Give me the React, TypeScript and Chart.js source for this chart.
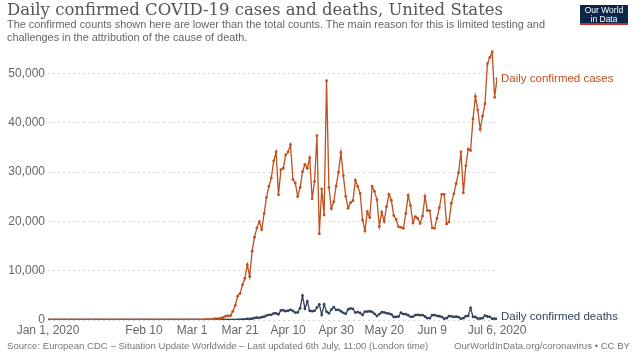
import React, { useEffect, useRef } from 'react';
import { Chart, registerables } from 'chart.js';

Chart.register(...registerables);

// ---- Data (day 0 = Jan 1, 2020) ----
const casesJan = [0,0,0,0,0,0,0,0,0,0, 0,0,0,0,0,0,0,0,0,0, 1,0,0,1,0,3,0,0,0,0, 1];
const casesFeb = [1,0,3,0,0,1,0,0,0,0, 1,0,1,1,0,0,0,0,0,0, 0,19,0,0,18,0,6,1,6];
const casesMar = [6,20,24,22,34,74,105,95,121,200, 271,287,351,511,777,823,887,1766,2988,4835, 5374,7123,8459,11236,8789,13963,16797,18695,19979,18360, 21595];
const casesApr = [24900,27100,28800,32300,34100,25400,30500,30800,33500,34100, 35600,28500,27800,25100,26900,30100,31600,30800,32900,24600, 28100,37400,17500,26600,21300,48600,26900,22600,24000,27200];
const casesMay = [30000,34000,29300,25100,22700,23800,24200,28400,27100,25700, 20300,18100,22000,20800,27100,26100,24400,19000,21900,20000, 23000,25500,24300,21200,20400,18900,18800,18600,21600,25300, 23200];
const casesJun = [19700,21000,20600,19600,21100,25100,22200,22200,18700,18600, 20600,22800,25500,25500,19500,19900,23700,25600,27700,29900, 34100,25800,31300,34700,34400,40800,45400,42600,38700,41400];
const casesJul = [43900,52000,53300,54400,45200,49000];

const deathsJan = new Array(31).fill(0);
const deathsFeb = new Array(29).fill(0);
const deathsMar = [1,5,1,3,1,4,3,2,4,4, 5,7,9,11,7,18,23,16,40,49, 46,113,141,225,247,249,409,484,445,571, 664];
const deathsApr = [906,1059,1045,1331,1330,1164,1939,1973,1783,1877, 2065,1830,1500,1541,2408,4928,2299,3770,1856,1772, 1857,2524,3179,1054,3176,1687,1369,2110,2611,2040];
const deathsMay = [2062,1775,1452,1248,2144,2353,2239,1510,1614,1422, 1015,1680,1715,1772,1632,1224,808,1200,1574,1528, 1394,1285,1131,632,617,708,1507,1201,1193,966, 638];
const deathsJun = [668,997,1036,974,1003,706,361,373,971,976, 852,758,622,279,362,775,750,629,704,569, 266,380,779,812,2437,651,612,287,307,374];
const deathsJul = [900,714,652,263,274,243];

const tickDays = [0, 40, 60, 80, 100, 120, 140, 160, 187];
const tickLabels = ['Jan 1, 2020', 'Feb 10', 'Mar 1', 'Mar 21', 'Apr 10', 'Apr 30', 'May 20', 'Jun 9', 'Jul 6, 2020'];
const yTicks = [0, 10000, 20000, 30000, 40000, 50000];

const seriesNames = ['Daily confirmed cases', 'Daily confirmed deaths'];

const CASES_COLOR = '#c0501f';
const DEATHS_COLOR = '#34435c';
const SANS = '"Liberation Sans", Arial, sans-serif';

export default function App() {
  const ref = useRef<HTMLCanvasElement>(null);

  useEffect(() => {
    if (!ref.current) return;
    const cases = [...casesJan, ...casesFeb, ...casesMar, ...casesApr, ...casesMay, ...casesJun, ...casesJul];
    const deaths = [...deathsJan, ...deathsFeb, ...deathsMar, ...deathsApr, ...deathsMay, ...deathsJun, ...deathsJul];

    const endLabels = {
      id: 'endLabels',
      afterDatasetsDraw(chart: any) {
        const ctx = chart.ctx;
        ctx.save();
        ctx.font = `11.5px ${SANS}`;
        ctx.textBaseline = 'middle';
        ctx.textAlign = 'left';
        chart.data.datasets.forEach((ds: any, i: number) => {
          const meta = chart.getDatasetMeta(i);
          const pt = meta.data[meta.data.length - 1];
          const y = Math.min(pt.y, chart.chartArea.bottom - 3);
          ctx.fillStyle = ds.borderColor;
          ctx.fillText(ds.label, pt.x + 4, y);
        });
        ctx.restore();
      },
    };

    const mk = (label: string, vals: number[], color: string) => ({
      label,
      data: vals.map((v, i) => ({ x: i, y: v })),
      borderColor: color,
      backgroundColor: color,
      pointBackgroundColor: color,
      pointBorderWidth: 0,
      pointRadius: 1.4,
      borderWidth: 1.3,
      tension: 0,
      fill: false,
    });

    const chart = new Chart(ref.current, {
      type: 'line',
      data: {
        datasets: [
          mk(seriesNames[0], cases, CASES_COLOR),
          mk(seriesNames[1], deaths, DEATHS_COLOR),
        ],
      },
      options: {
        responsive: false,
        animation: false,
        layout: { padding: { top: 49, right: 143, bottom: 20, left: 0 } },
        plugins: {
          legend: { display: false },
          tooltip: { enabled: false },
          title: { display: false },
        },
        scales: {
          x: {
            type: 'linear',
            min: 0,
            max: 187,
            grid: { display: false, drawTicks: false },
            border: { display: false },
            afterBuildTicks: (s: any) => {
              s.ticks = tickDays.map((v) => ({ value: v }));
            },
            afterFit: (s: any) => {
              s.height = 20;
            },
            ticks: {
              autoSkip: false,
              maxRotation: 0,
              padding: 3,
              color: '#666',
              font: { family: SANS, size: 12 },
              callback: (v: any) => {
                const idx = tickDays.indexOf(Number(v));
                return idx >= 0 ? tickLabels[idx] : '';
              },
            },
          },
          y: {
            min: 0,
            max: 55000,
            afterBuildTicks: (s: any) => {
              s.ticks = yTicks.map((v) => ({ value: v }));
            },
            afterFit: (s: any) => {
              s.width = 48;
            },
            grid: { drawTicks: false, color: '#d6d6d6', lineWidth: 1 },
            border: { display: false, dash: [2, 3] },
            ticks: {
              padding: 3,
              color: '#666',
              font: { family: SANS, size: 12 },
              callback: (v: any) => Number(v).toLocaleString('en-US'),
            },
          },
        },
      },
      plugins: [endLabels],
    } as any);

    return () => chart.destroy();
  }, []);

  return (
    <div style={{ position: 'fixed', left: 0, top: 0, width: 640, height: 360, background: '#fff', overflow: 'hidden' }}>
      <canvas ref={ref} width={640} height={360} style={{ position: 'absolute', left: 0, top: 0, width: 640, height: 360 }} />
      <div style={{ position: 'absolute', left: 7, top: 0, font: '16.5px "DejaVu Serif", Georgia, serif', lineHeight: '20px', color: '#555', whiteSpace: 'nowrap' }}>
        Daily confirmed COVID-19 cases and deaths, United States
      </div>
      <div style={{ position: 'absolute', left: 7, top: 18, width: 580, font: `10.9px ${SANS}`, lineHeight: '12.5px', color: '#666', whiteSpace: 'nowrap' }}>
        The confirmed counts shown here are lower than the total counts. The main reason for this is limited testing and
        <br />
        challenges in the attribution of the cause of death.
      </div>
      <div style={{ position: 'absolute', left: 580, top: 5, width: 48, height: 17, background: '#0b2649', borderBottom: '2.5px solid #cc2b22', color: '#fff', font: `8.5px ${SANS}`, lineHeight: '8.5px', textAlign: 'center', paddingTop: 1 }}>
        Our World
        <br />
        in Data
      </div>
      <div style={{ position: 'absolute', left: 7, top: 340, font: `9.6px ${SANS}`, lineHeight: '12px', color: '#777', whiteSpace: 'nowrap' }}>
        Source: European CDC – Situation Update Worldwide – Last updated 6th July, 11:00 (London time)
      </div>
      <div style={{ position: 'absolute', right: 10, top: 340, font: `9.6px ${SANS}`, lineHeight: '12px', color: '#777', whiteSpace: 'nowrap' }}>
        OurWorldInData.org/coronavirus • CC BY
      </div>
    </div>
  );
}
